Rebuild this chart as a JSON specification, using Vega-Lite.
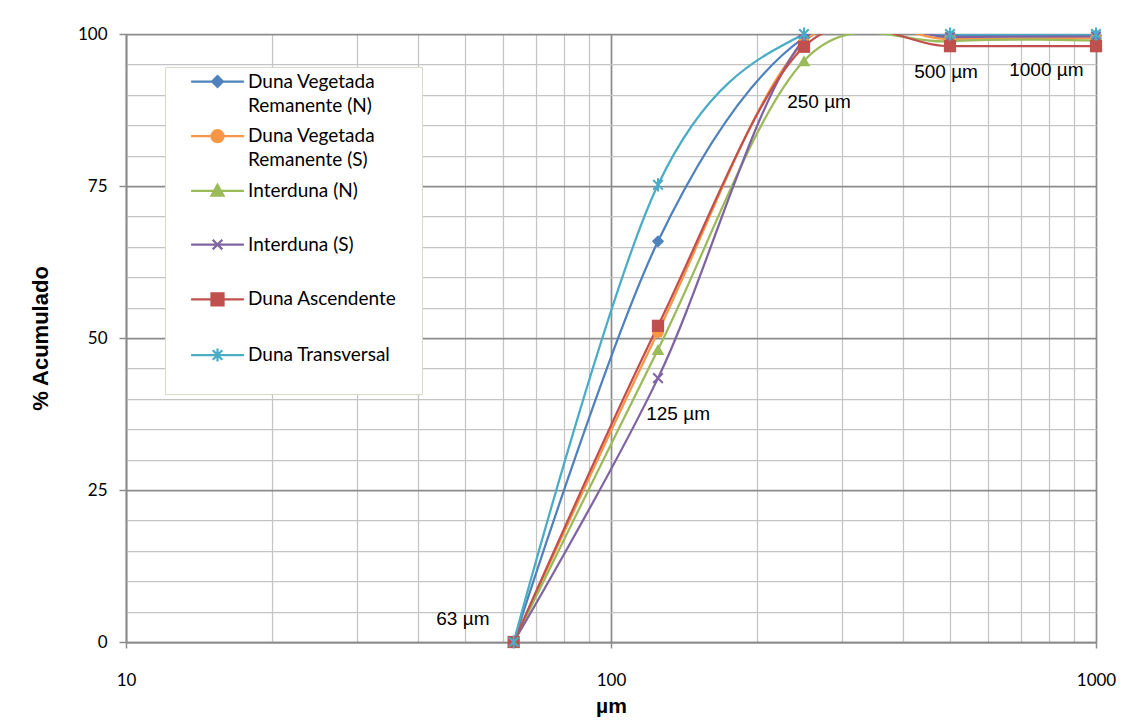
{
  "$schema": "https://vega.github.io/schema/vega-lite/v6.json",
  "width": 970,
  "height": 608,
  "autosize": {"type": "none"},
  "padding": {"left": 126, "top": 34, "right": 38, "bottom": 79},
  "background": "white",
  "config": {
    "view": {"stroke": null},
    "font": "Lato"
  },
  "datasets": {
    "curves": [
      {"series": "Duna Vegetada Remanente (N)", "size": 63, "pct": 0},
      {"series": "Duna Vegetada Remanente (N)", "size": 125, "pct": 65.9},
      {"series": "Duna Vegetada Remanente (N)", "size": 250, "pct": 99.4},
      {"series": "Duna Vegetada Remanente (N)", "size": 500, "pct": 99.7},
      {"series": "Duna Vegetada Remanente (N)", "size": 1000, "pct": 99.8},
      {"series": "Duna Vegetada Remanente (S)", "size": 63, "pct": 0},
      {"series": "Duna Vegetada Remanente (S)", "size": 125, "pct": 51.0},
      {"series": "Duna Vegetada Remanente (S)", "size": 250, "pct": 98.6},
      {"series": "Duna Vegetada Remanente (S)", "size": 500, "pct": 99.2},
      {"series": "Duna Vegetada Remanente (S)", "size": 1000, "pct": 99.3},
      {"series": "Interduna (N)", "size": 63, "pct": 0},
      {"series": "Interduna (N)", "size": 125, "pct": 48.1},
      {"series": "Interduna (N)", "size": 250, "pct": 95.6},
      {"series": "Interduna (N)", "size": 500, "pct": 98.8},
      {"series": "Interduna (N)", "size": 1000, "pct": 98.9},
      {"series": "Interduna (S)", "size": 63, "pct": 0},
      {"series": "Interduna (S)", "size": 125, "pct": 43.4},
      {"series": "Interduna (S)", "size": 250, "pct": 99.1},
      {"series": "Interduna (S)", "size": 500, "pct": 99.5},
      {"series": "Interduna (S)", "size": 1000, "pct": 99.6},
      {"series": "Duna Ascendente", "size": 63, "pct": 0},
      {"series": "Duna Ascendente", "size": 125, "pct": 52.0},
      {"series": "Duna Ascendente", "size": 250, "pct": 97.9},
      {"series": "Duna Ascendente", "size": 500, "pct": 98.0},
      {"series": "Duna Ascendente", "size": 1000, "pct": 98.0},
      {"series": "Duna Transversal", "size": 63, "pct": 0},
      {"series": "Duna Transversal", "size": 125, "pct": 75.2},
      {"series": "Duna Transversal", "size": 250, "pct": 100},
      {"series": "Duna Transversal", "size": 500, "pct": 100},
      {"series": "Duna Transversal", "size": 1000, "pct": 100}
    ],
    "labels": [
      {"text": "63 µm", "size": 49.5, "pct": 3.8},
      {"text": "125 µm", "size": 137.5, "pct": 37.5},
      {"text": "250 µm", "size": 268.5, "pct": 88.8},
      {"text": "500 µm", "size": 490.7, "pct": 93.8},
      {"text": "1000 µm", "size": 790, "pct": 94.1}
    ]
  },
  "resolve": {"axis": {"x": "independent", "y": "independent"}},
  "layer": [
    {
      "data": {"name": "curves"},
      "mark": {"type": "line", "interpolate": "cardinal", "strokeWidth": 2.25, "clip": true},
      "encoding": {
        "x": {
          "field": "size", "type": "quantitative",
          "scale": {"type": "log", "domain": [10, 1000], "nice": false},
          "axis": {
            "orient": "bottom",
            "values": [20, 30, 40, 50, 60, 70, 80, 90, 200, 300, 400, 500, 600, 700, 800, 900],
            "grid": true, "gridColor": "#c4c4c4", "gridWidth": 1.25,
            "labels": false, "ticks": false, "domain": false, "title": null
          }
        },
        "y": {
          "field": "pct", "type": "quantitative",
          "scale": {"domain": [0, 100], "nice": false},
          "axis": {
            "orient": "left",
            "values": [5, 10, 15, 20, 30, 35, 40, 45, 55, 60, 65, 70, 80, 85, 90, 95],
            "grid": true, "gridColor": "#c4c4c4", "gridWidth": 1.25,
            "labels": false, "ticks": false, "domain": false, "title": null
          }
        },
        "color": {
          "field": "series", "type": "nominal",
          "scale": {
            "domain": ["Duna Vegetada Remanente (N)", "Duna Vegetada Remanente (S)", "Interduna (N)", "Interduna (S)", "Duna Ascendente", "Duna Transversal"],
            "range": ["#4F81BD", "#F79646", "#9BBB59", "#8064A2", "#C0504D", "#4BACC6"]
          },
          "legend": {
            "title": "\u00a0",
            "titleOrient": "right",
            "titlePadding": 21,
            "titleFontSize": 8,
            "orient": "none",
            "legendX": 39,
            "legendY": 33,
            "direction": "vertical",
            "fillColor": "white",
            "strokeColor": "#d9d9c6",
            "padding": 5,
            "symbolOffset": 38,
            "symbolSize": 144,
            "symbolStrokeWidth": 2.25,
            "labelOffset": 21,
            "labelFont": "Lato",
            "labelFontSize": 19,
            "labelColor": "black",
            "labelLimit": 400,
            "labelBaseline": "middle",
            "rowPadding": 9.7,
            "labelExpr": "indexof(datum.label, 'Remanente') > 0 ? ['Duna Vegetada', substring(datum.label, indexof(datum.label, 'Remanente'))] : [datum.label, '\u00a0']",
            "encode": {
              "symbols": {
                "update": {
                  "shape": {"signal": "datum.value == 'Duna Vegetada Remanente (N)' ? 'M0,-0.9L0.9,0L0,0.9L-0.9,0ZM-4.4,0L4.4,0' : datum.value == 'Duna Vegetada Remanente (S)' ? 'M1,0A1,1,0,1,1,-1,0A1,1,0,1,1,1,0ZM-4.4,0L4.4,0' : datum.value == 'Interduna (N)' ? 'M0,-1L1,0.8L-1,0.8ZM-4.4,0L4.4,0' : datum.value == 'Interduna (S)' ? 'M-0.8,-0.8L0.8,0.8M-0.8,0.8L0.8,-0.8M-4.4,0L4.4,0' : datum.value == 'Duna Ascendente' ? 'M-1,-1L1,-1L1,1L-1,1ZM-4.4,0L4.4,0' : 'M-0.8,-0.8L0.8,0.8M-0.8,0.8L0.8,-0.8M0,-1.1L0,1.1M-4.4,0L4.4,0'"},
                  "size": {"value": 144},
                  "fill": {"signal": "scale('color', datum.value)"},
                  "stroke": {"signal": "scale('color', datum.value)"},
                  "strokeWidth": {"value": 2.25},
                  "opacity": {"value": 1}
                }
              },
              "labels": {
                "enter": {
                  "lineHeight": {"value": 24}
                },
                "update": {
                  "lineHeight": {"value": 24},
                  "dy": {"value": 0}
                }
              }
            }
          }
        }
      }
    },
    {
      "data": {"name": "curves"},
      "transform": [{"filter": "datum.series == 'Duna Vegetada Remanente (N)'"}],
      "mark": {"type": "point", "shape": "diamond", "filled": true, "size": 150, "color": "#4F81BD", "opacity": 1},
      "encoding": {
        "x": {
          "field": "size", "type": "quantitative",
          "scale": {"type": "log", "domain": [10, 1000], "nice": false},
          "axis": {
            "orient": "bottom",
            "values": [10, 100, 1000], "format": "d",
            "grid": true, "gridColor": "#8c8c8c", "gridWidth": 1.75,
            "domain": true, "domainColor": "#8c8c8c", "domainWidth": 1.75,
            "ticks": true, "tickColor": "#8c8c8c", "tickSize": 6, "tickWidth": 1.5,
            "labelFont": "Lato", "labelFontSize": 17, "labelColor": "black", "labelPadding": 24,
            "labelBaseline": "top", "labelFlush": false,
            "title": "µm", "titleFont": "Liberation Sans", "titleFontSize": 21, "titleFontWeight": "bold", "titleColor": "black",
            "titleX": 485, "titleY": 64, "titleBaseline": "middle", "titleAlign": "center"
          }
        },
        "y": {
          "field": "pct", "type": "quantitative",
          "scale": {"domain": [0, 100], "nice": false},
          "axis": {
            "orient": "left",
            "values": [0, 25, 50, 75, 100],
            "grid": true, "gridColor": "#8c8c8c", "gridWidth": 1.75,
            "domain": true, "domainColor": "#8c8c8c", "domainWidth": 1.75,
            "ticks": true, "tickColor": "#8c8c8c", "tickSize": 7, "tickWidth": 1.5,
            "labelFont": "Lato", "labelFontSize": 17, "labelColor": "black", "labelPadding": 12,
            "title": "% Acumulado", "titleFont": "Liberation Sans", "titleFontSize": 22, "titleFontWeight": "bold", "titleColor": "black",
            "titleX": -86, "titleY": 304, "titleAngle": -90, "titleBaseline": "middle", "titleAlign": "center"
          }
        }
      }
    },
    {
      "data": {"name": "curves"},
      "transform": [{"filter": "datum.series == 'Duna Vegetada Remanente (S)'"}],
      "mark": {"type": "point", "shape": "circle", "filled": true, "size": 144, "color": "#F79646", "opacity": 1},
      "encoding": {
        "x": {"field": "size", "type": "quantitative", "scale": {"type": "log", "domain": [10, 1000], "nice": false}, "axis": null},
        "y": {"field": "pct", "type": "quantitative", "scale": {"domain": [0, 100], "nice": false}, "axis": null}
      }
    },
    {
      "data": {"name": "curves"},
      "transform": [{"filter": "datum.series == 'Interduna (N)'"}],
      "mark": {"type": "point", "shape": "triangle-up", "filled": true, "size": 160, "color": "#9BBB59", "opacity": 1},
      "encoding": {
        "x": {"field": "size", "type": "quantitative", "scale": {"type": "log", "domain": [10, 1000], "nice": false}, "axis": null},
        "y": {"field": "pct", "type": "quantitative", "scale": {"domain": [0, 100], "nice": false}, "axis": null}
      }
    },
    {
      "data": {"name": "curves"},
      "transform": [{"filter": "datum.series == 'Interduna (S)'"}],
      "mark": {"type": "point", "shape": "M-0.8,-0.8L0.8,0.8M-0.8,0.8L0.8,-0.8", "filled": false, "size": 144, "color": "#8064A2", "strokeWidth": 2, "opacity": 1},
      "encoding": {
        "x": {"field": "size", "type": "quantitative", "scale": {"type": "log", "domain": [10, 1000], "nice": false}, "axis": null},
        "y": {"field": "pct", "type": "quantitative", "scale": {"domain": [0, 100], "nice": false}, "axis": null}
      }
    },
    {
      "data": {"name": "curves"},
      "transform": [{"filter": "datum.series == 'Duna Ascendente'"}],
      "mark": {"type": "point", "shape": "square", "filled": true, "size": 150, "color": "#C0504D", "opacity": 1},
      "encoding": {
        "x": {"field": "size", "type": "quantitative", "scale": {"type": "log", "domain": [10, 1000], "nice": false}, "axis": null},
        "y": {"field": "pct", "type": "quantitative", "scale": {"domain": [0, 100], "nice": false}, "axis": null}
      }
    },
    {
      "data": {"name": "curves"},
      "transform": [{"filter": "datum.series == 'Duna Transversal'"}],
      "mark": {"type": "point", "shape": "M-0.8,-0.8L0.8,0.8M-0.8,0.8L0.8,-0.8M0,-1.1L0,1.1", "filled": false, "size": 144, "color": "#4BACC6", "strokeWidth": 2, "opacity": 1},
      "encoding": {
        "x": {"field": "size", "type": "quantitative", "scale": {"type": "log", "domain": [10, 1000], "nice": false}, "axis": null},
        "y": {"field": "pct", "type": "quantitative", "scale": {"domain": [0, 100], "nice": false}, "axis": null}
      }
    },
    {
      "data": {"name": "labels"},
      "mark": {"type": "text", "font": "Liberation Sans", "fontSize": 19, "color": "black", "align": "center", "baseline": "middle"},
      "encoding": {
        "x": {"field": "size", "type": "quantitative", "scale": {"type": "log", "domain": [10, 1000], "nice": false}, "axis": null},
        "y": {"field": "pct", "type": "quantitative", "scale": {"domain": [0, 100], "nice": false}, "axis": null},
        "text": {"field": "text", "type": "nominal"}
      }
    }
  ]
}
